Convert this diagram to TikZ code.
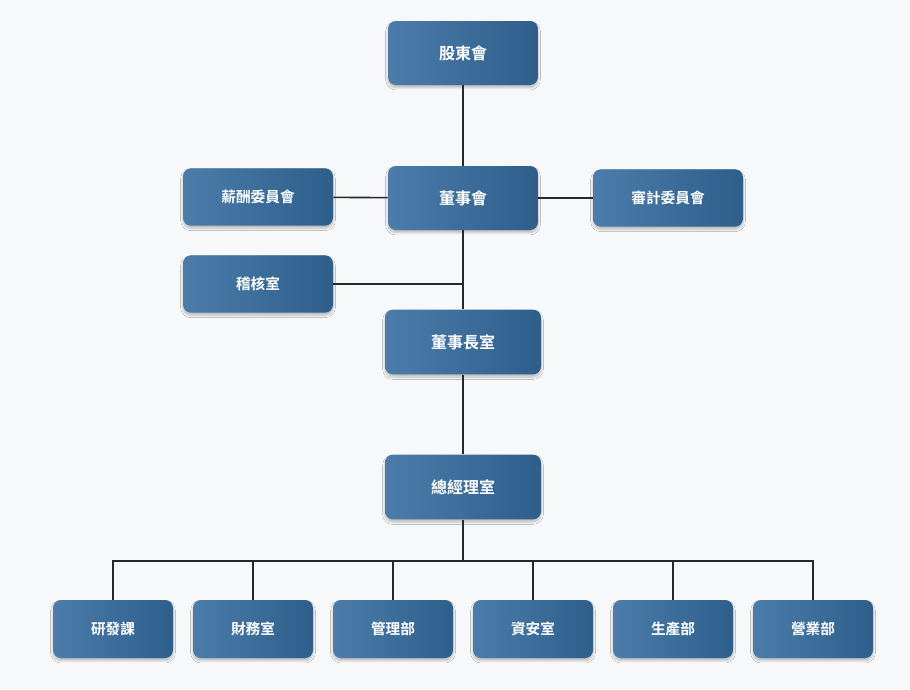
\documentclass[tikz,border=0pt]{standalone}
\usepackage{fontspec}
\newfontfamily\cjk{Noto Sans CJK TC}[BoldFont=* Bold]
\usetikzlibrary{positioning,shadows.blur}
\definecolor{bgpage}{RGB}{246,248,250}
\definecolor{boxtop}{RGB}{76,124,170}
\definecolor{boxbot}{RGB}{46,94,138}
\definecolor{wire}{RGB}{40,40,40}

\begin{document}
\begin{tikzpicture}[x=0.75pt, y=-0.75pt,
  box/.style={rounded corners=6pt, draw=none, left color=boxtop, right color=boxbot,
      blur shadow={shadow xshift=0pt, shadow yshift=-2pt, shadow blur steps=6, shadow opacity=25},
      text=white, font=\cjk\bfseries, inner sep=0pt},
  big/.style={box, minimum width=112.5pt, minimum height=48pt, font=\cjk\bfseries\fontsize{12}{14}\selectfont},
  side/.style={box, minimum width=112.5pt, minimum height=43pt, font=\cjk\bfseries\fontsize{11}{13}\selectfont},
  wide/.style={box, minimum width=117pt, minimum height=48.5pt, font=\cjk\bfseries\fontsize{12}{14}\selectfont},
  unit/.style={box, minimum width=90pt, minimum height=43.5pt, font=\cjk\bfseries\fontsize{11}{13}\selectfont},
  link/.style={draw=wire, line width=1.2pt}]
\fill[bgpage] (0,0) rectangle (910,689);
\useasboundingbox (0,0) rectangle (910,689);

% governance
\node[big] (gm) at (463,53) {股東會};
\node[big] (board) at (463,198) {董事會};
\node[side] (pay) at (258,197) {薪酬委員會};
\node[side] (audit) at (668,198) {審計委員會};
\node[side] (check) at (258,284) {稽核室};
\node[wide] (chair) at (463,342) {董事長室};
\node[wide] (ceo) at (463,487) {總經理室};

\coordinate (tap) at (463,284);
\coordinate (bus) at (463,561);

\draw[link] (gm) -- (board);
\draw[link] (pay) -- (board);
\draw[link] (board) -- (audit);
\draw[link] (board) -- (chair);
\draw[link] (check) -- (tap);
\draw[link] (chair) -- (ceo);
\draw[link] (ceo) -- (bus);

% departments
\foreach \name/\label [count=\i from 0] in {rd/研發課,fin/財務室,mgmt/管理部,sec/資安室,prod/生產部,sales/營業部}{
  \node[unit] (\name) at (113+140*\i,629) {\label};
  \draw[link] (\name.north) -- ++(0,-39) -| (bus);
}
\end{tikzpicture}
\end{document}
